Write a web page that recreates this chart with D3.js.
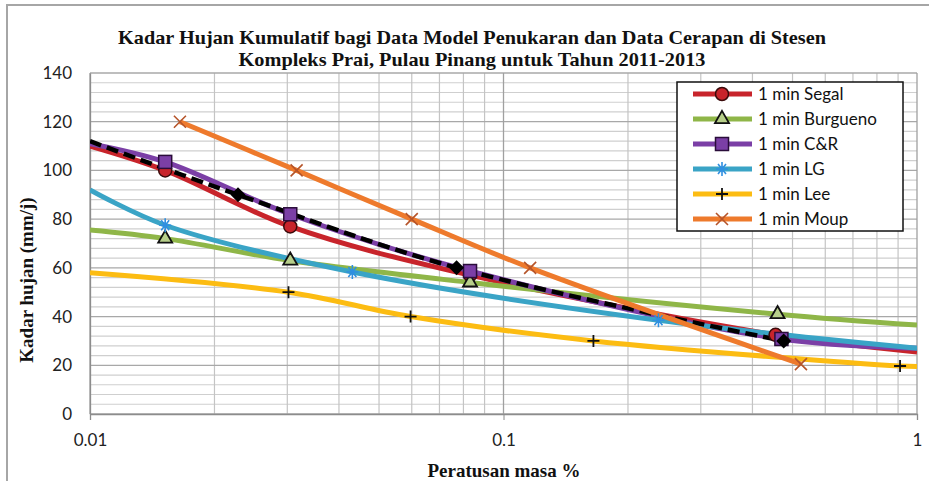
<!DOCTYPE html>
<html>
<head>
<meta charset="utf-8">
<script src="https://cdn.jsdelivr.net/npm/d3@7"></script>
<style>
  body { margin: 0; background: #fff; }
  svg { display: block; }
  .tick text { font-family: Lato, "Open Sans", sans-serif; font-size: 17px; fill: #222; }
</style>
</head>
<body>
<div id="chart"></div>
<script>
// Series values (x = Peratusan masa %, y = Kadar hujan mm/j)
const segalX = [0.01, 0.0152, 0.0305, 0.083, 0.455, 1]
const segalY = [110, 100, 77, 57, 32.5, 25.5]
const burguenoX = [0.01, 0.0152, 0.0305, 0.083, 0.46, 1]
const burguenoY = [75.5, 72, 63, 54, 41, 36.5]
const crX = [0.01, 0.0152, 0.0305, 0.083, 0.47, 1]
const crY = [111, 103.5, 82, 58.7, 30.8, 27]
const lgX = [0.01, 0.0152, 0.0431, 0.237, 1]
const lgY = [92, 77.5, 58.3, 38.5, 27]
const leeX = [0.01, 0.0302, 0.0596, 0.165, 0.91, 1]
const leeY = [58, 50, 40, 30, 19.7, 19.5]
const moupX = [0.0165, 0.0316, 0.06, 0.116, 0.524]
const moupY = [120, 100, 80, 60, 20.5]
const cerapanX = [0.01, 0.0228, 0.077, 0.476]
const cerapanY = [112, 90, 60, 30]

const xTicks = [0.01, 0.1, 1]
const yTicks = [0, 20, 40, 60, 80, 100, 120, 140]

const titleLines = [
  'Kadar Hujan Kumulatif bagi Data Model Penukaran dan Data Cerapan di Stesen',
  'Kompleks Prai, Pulau Pinang untuk Tahun 2011-2013'
]

const W = 929, H = 481
const plot = {left: 90, right: 917, top: 73, bottom: 414}

let svg = d3.select('#chart').append('svg')
  .attr('width', W)
  .attr('height', H)

// chart frame (only left/top edges visible in the crop)
svg.append('rect')
  .attr('x', 7).attr('y', 5)
  .attr('width', 960).attr('height', 520)
  .attr('fill', '#fff')
  .attr('stroke', '#a6a6a6')
  .attr('stroke-width', 2)

let x = d3.scaleLog().domain([0.01, 1]).range([plot.left, plot.right])
let y = d3.scaleLinear().domain([0, 140]).range([plot.bottom, plot.top])

// Gridlines
let g = svg.append('g')
let minorY = d3.range(0, 141, 4).filter(v => v % 20 !== 0)
g.selectAll('.hmin').data(minorY).enter().append('line')
  .attr('x1', plot.left).attr('x2', plot.right)
  .attr('y1', d => y(d)).attr('y2', d => y(d))
  .attr('stroke', '#cfcfcf').attr('stroke-width', 1.2)
let vlines = []
for (let dec of [0.01, 0.1]) for (let k = 2; k <= 9; k++) vlines.push(dec * k)
g.selectAll('.vmin').data(vlines).enter().append('line')
  .attr('x1', d => x(d)).attr('x2', d => x(d))
  .attr('y1', plot.top).attr('y2', plot.bottom)
  .attr('stroke', '#c4c4c4').attr('stroke-width', 1.2)
g.selectAll('.hmaj').data(yTicks).enter().append('line')
  .attr('x1', plot.left).attr('x2', plot.right)
  .attr('y1', d => y(d)).attr('y2', d => y(d))
  .attr('stroke', '#a8a8a8').attr('stroke-width', 1.3)
g.selectAll('.vmaj').data(xTicks).enter().append('line')
  .attr('x1', d => x(d)).attr('x2', d => x(d))
  .attr('y1', plot.top).attr('y2', plot.bottom)
  .attr('stroke', '#a0a0a0').attr('stroke-width', 1.3)

// Axes
let xAxis = d3.axisBottom(x).tickValues(xTicks).tickFormat(d => String(d))
  .tickSize(6).tickPadding(14)
svg.append('g')
  .attr('transform', 'translate(0,' + plot.bottom + ')')
  .call(xAxis)
  .call(a => a.select('.domain').attr('stroke', '#8c8c8c').attr('stroke-width', 1.3))
  .call(a => a.selectAll('.tick line').attr('stroke', '#8c8c8c'))

let yAxis = d3.axisLeft(y).tickValues(yTicks).tickSize(0).tickPadding(18)
svg.append('g')
  .attr('transform', 'translate(' + plot.left + ',0)')
  .call(yAxis)
  .call(a => a.select('.domain').attr('stroke', '#8c8c8c').attr('stroke-width', 1.3))

// Series, in drawing order (observed data has no legend entry)
function pts (xs, ys) { return xs.map((v, i) => ({x: v, y: ys[i]})) }
const series = [
  {name: '1 min Segal', data: pts(segalX, segalY), color: '#c8242b', marker: 'circle'},
  {name: '1 min Burgueno', data: pts(burguenoX, burguenoY), color: '#8fb648', marker: 'triangle'},
  {name: '1 min C&R', data: pts(crX, crY), color: '#7b3fa6', marker: 'square'},
  {name: '1 min LG', data: pts(lgX, lgY), color: '#3aa4c6', marker: 'asterisk'},
  {name: '1 min Lee', data: pts(leeX, leeY), color: '#fcbc12', marker: 'plus'},
  {name: null, data: pts(cerapanX, cerapanY), color: '#000', marker: 'diamond', dashed: true},
  {name: '1 min Moup', data: pts(moupX, moupY), color: '#ee7a2c', marker: 'cross'}
]

svg.append('clipPath').attr('id', 'plotclip')
  .append('rect')
  .attr('x', plot.left).attr('y', plot.top)
  .attr('width', plot.right - plot.left).attr('height', plot.bottom - plot.top)

let line = d3.line()
  .x(d => x(d.x))
  .y(d => y(d.y))
  .curve(d3.curveCatmullRom.alpha(0.5))

let layer = svg.append('g').attr('clip-path', 'url(#plotclip)')

function drawMarker (sel, type, color) {
  if (type === 'circle') {
    sel.append('circle').attr('r', 6.5).attr('fill', color).attr('stroke', '#3a0a0a').attr('stroke-width', 1.5)
  } else if (type === 'triangle') {
    sel.append('path').attr('d', d3.symbol(d3.symbolTriangle, 85)())
      .attr('fill', '#b7cf8a').attr('stroke', '#111').attr('stroke-width', 1.8)
  } else if (type === 'square') {
    sel.append('rect').attr('x', -6.5).attr('y', -6.5).attr('width', 13).attr('height', 13)
      .attr('fill', color).attr('stroke', '#2a0d3a').attr('stroke-width', 1.5)
  } else if (type === 'asterisk') {
    sel.append('path').attr('d', 'M-6,0H6M-4,-5L4,5M-4,5L4,-5M0,-7V7')
      .attr('stroke', '#2f8fe0').attr('stroke-width', 1.6)
  } else if (type === 'plus') {
    sel.append('path').attr('d', 'M-6,0H6M0,-6V6')
      .attr('stroke', '#111').attr('stroke-width', 1.8)
  } else if (type === 'cross') {
    sel.append('path').attr('d', 'M-6,-6L6,6M-6,6L6,-6')
      .attr('stroke', '#b5542a').attr('stroke-width', 1.6)
  } else if (type === 'diamond') {
    sel.append('path').attr('d', 'M0,-7.5L7.5,0L0,7.5L-7.5,0Z').attr('fill', '#000')
  }
}

series.forEach(s => {
  layer.append('path')
    .datum(s.data)
    .attr('d', line)
    .attr('fill', 'none')
    .attr('stroke', s.color)
    .attr('stroke-width', s.dashed ? 4.5 : 5)
    .attr('stroke-dasharray', s.dashed ? '12,6' : null)
    .attr('stroke-linecap', 'butt')
})
series.forEach(s => {
  let inside = s.data.filter(d => d.x > 0.01 && d.x < 1)
  layer.selectAll(null)
    .data(inside)
    .enter().append('g')
    .attr('transform', d => 'translate(' + x(d.x) + ',' + y(d.y) + ')')
    .each(function () { drawMarker(d3.select(this), s.marker, s.color) })
})

// Legend
let legendItems = series.filter(s => s.name)
let lg = svg.append('g')
lg.append('rect')
  .attr('x', 677).attr('y', 82).attr('width', 226).attr('height', 149)
  .attr('fill', '#fff').attr('stroke', '#111').attr('stroke-width', 1.5)
legendItems.forEach((s, i) => {
  let cy = 94 + i * 25
  lg.append('line')
    .attr('x1', 693).attr('x2', 752).attr('y1', cy).attr('y2', cy)
    .attr('stroke', s.color).attr('stroke-width', 5)
  drawMarker(lg.append('g').attr('transform', 'translate(722,' + cy + ')'), s.marker, s.color)
  lg.append('text')
    .attr('x', 758).attr('y', cy)
    .attr('dy', '0.35em')
    .attr('font-family', 'Lato, "Open Sans", sans-serif')
    .attr('font-size', 17)
    .attr('fill', '#111')
    .text(s.name)
})

// Titles
const serif = '"Liberation Serif", "Times New Roman", serif'
svg.selectAll('.title').data(titleLines).enter().append('text')
  .attr('x', 472)
  .attr('y', (d, i) => 44 + i * 22)
  .attr('text-anchor', 'middle')
  .attr('font-family', serif)
  .attr('font-weight', 'bold')
  .attr('font-size', 19)
  .attr('textLength', (d, i) => i === 0 ? 708 : 467)
  .attr('lengthAdjust', 'spacingAndGlyphs')
  .attr('fill', '#111')
  .text(d => d)

svg.append('text')
  .attr('transform', 'translate(33,280) rotate(-90)')
  .attr('text-anchor', 'middle')
  .attr('font-family', serif)
  .attr('font-weight', 'bold')
  .attr('font-size', 19)
  .attr('fill', '#111')
  .text('Kadar hujan (mm/j)')

svg.append('text')
  .attr('x', 504).attr('y', 477)
  .attr('text-anchor', 'middle')
  .attr('font-family', serif)
  .attr('font-weight', 'bold')
  .attr('font-size', 19)
  .attr('fill', '#111')
  .text('Peratusan masa %')
</script>
</body>
</html>
